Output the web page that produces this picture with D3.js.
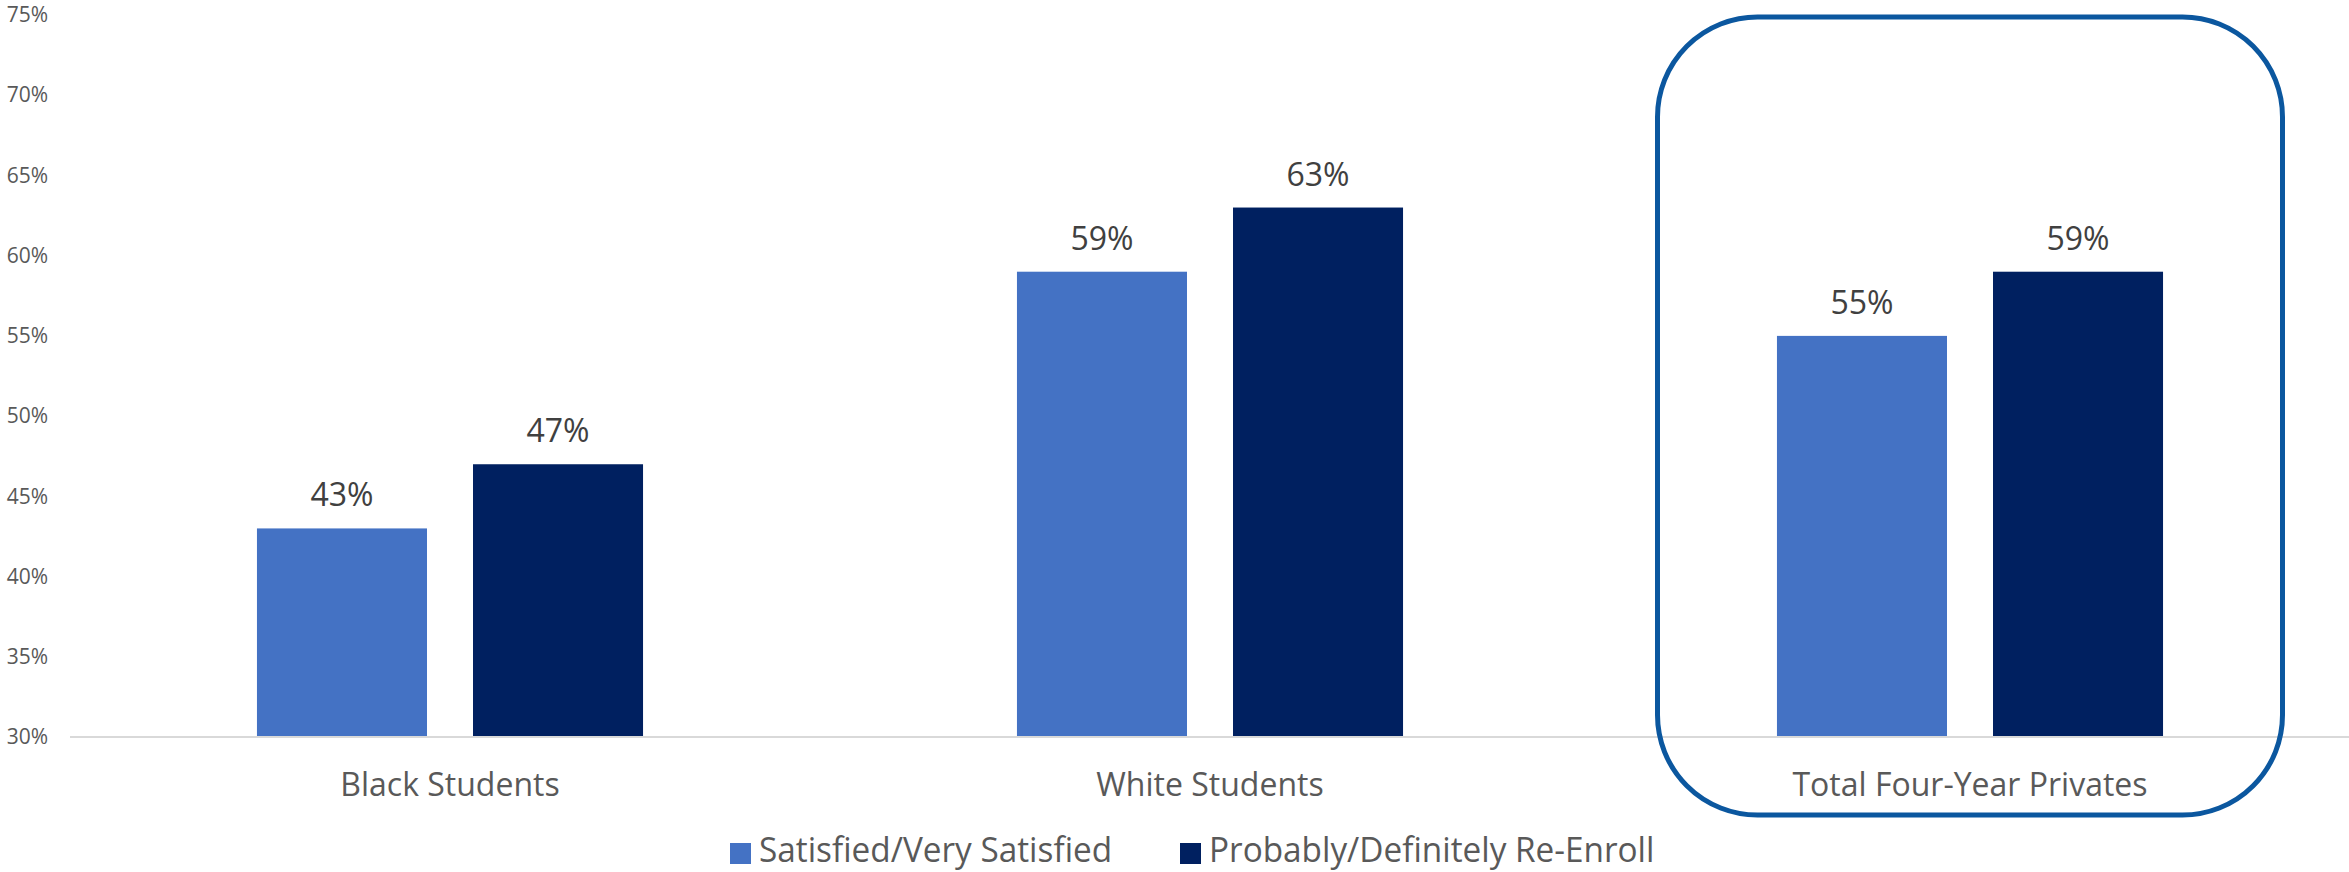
<!DOCTYPE html>
<html>
<head>
<meta charset="utf-8">
<script src="https://cdn.jsdelivr.net/npm/d3@7"></script>
<style>
  html, body { margin: 0; padding: 0; background: #ffffff; }
  svg { display: block; font-family: "Open Sans", "Noto Sans", sans-serif; }
</style>
</head>
<body>
<svg id="chart" width="2349" height="872"></svg>
<script>
// Survey groups and the two measures shown for each
const categories = ["Black Students", "White Students", "Total Four-Year Privates"];
const seriesNames = ["Satisfied/Very Satisfied", "Probably/Definitely Re-Enroll"];
const satisfied = [43, 59, 55];
const reenroll = [47, 63, 59];
const yTicks = [30, 35, 40, 45, 50, 55, 60, 65, 70, 75];
const highlighted = "Total Four-Year Privates";

const colors = { "Satisfied/Very Satisfied": "#4472C4", "Probably/Definitely Re-Enroll": "#002060" };

const W = 2349, H = 872;
const plot = { left: 70, right: 2350, top: 15, bottom: 737 };

const svg = d3.select("#chart");

const y = d3.scaleLinear().domain([30, 75]).range([plot.bottom, plot.top]);

const x0 = d3.scaleBand()
  .domain(categories)
  .range([plot.left, plot.right])
  .paddingInner(0.492)
  .paddingOuter(0.246);

const x1 = d3.scaleBand()
  .domain(seriesNames)
  .range([0, x0.bandwidth()])
  .paddingInner(0.213);

const rows = categories.map((c, i) => ({
  category: c,
  values: [
    { series: seriesNames[0], value: satisfied[i] },
    { series: seriesNames[1], value: reenroll[i] }
  ]
}));

// Y axis tick labels (no gridlines)
const yAxis = d3.axisLeft(y).tickValues(yTicks).tickFormat(d => d + "%").tickSize(0).tickPadding(0);
const yg = svg.append("g").attr("transform", "translate(48,0)").call(yAxis);
yg.select(".domain").remove();
yg.selectAll("text")
  .attr("fill", "#595959")
  .style("font-size", "21px")
  .style("font-family", "'Open Sans', sans-serif");

// Bars
const groups = svg.append("g").selectAll("g")
  .data(rows).join("g")
  .attr("transform", d => `translate(${x0(d.category)},0)`);

groups.selectAll("rect")
  .data(d => d.values).join("rect")
  .attr("x", d => x1(d.series))
  .attr("y", d => y(d.value))
  .attr("width", x1.bandwidth())
  .attr("height", d => y(30) - y(d.value))
  .attr("fill", d => colors[d.series]);

// Value labels
groups.selectAll("text.val")
  .data(d => d.values).join("text")
  .attr("class", "val")
  .attr("x", d => x1(d.series) + x1.bandwidth() / 2)
  .attr("y", d => y(d.value) - 22)
  .attr("text-anchor", "middle")
  .attr("fill", "#404040")
  .style("font-size", "32px")
  .text(d => d.value + "%");

// Baseline axis
svg.append("line")
  .attr("x1", plot.left).attr("x2", W)
  .attr("y1", y(30)).attr("y2", y(30))
  .attr("stroke", "#d9d9d9").attr("stroke-width", 2);

// Slightly condensed text
const condense = (sel, ratio) => sel.each(function () {
  const w = this.getComputedTextLength();
  d3.select(this).attr("textLength", w * ratio).attr("lengthAdjust", "spacingAndGlyphs");
});

// Category labels
svg.append("g").selectAll("text")
  .data(categories).join("text")
  .attr("x", d => x0(d) + x0.bandwidth() / 2)
  .attr("y", 796)
  .attr("text-anchor", "middle")
  .attr("fill", "#595959")
  .style("font-size", "33px")
  .text(d => d)
  .call(condense, 0.97);

// Highlight frame around one category group
const hx = x0(highlighted) + x0.bandwidth() / 2;
svg.append("rect")
  .attr("x", hx - 312.5)
  .attr("y", 17)
  .attr("width", 625)
  .attr("height", 798)
  .attr("rx", 100).attr("ry", 100)
  .attr("fill", "none")
  .attr("stroke", "#0b579f")
  .attr("stroke-width", 5);

// Legend
const legendX = [730, 1180];
const legend = svg.append("g").selectAll("g")
  .data(seriesNames).join("g")
  .attr("transform", (d, i) => `translate(${legendX[i]},0)`);
legend.append("rect")
  .attr("x", 0).attr("y", 843)
  .attr("width", 21).attr("height", 21)
  .attr("fill", d => colors[d]);
legend.append("text")
  .attr("x", 29).attr("y", 862)
  .attr("fill", "#595959")
  .style("font-size", "34px")
  .text(d => d)
  .call(condense, 0.98);
</script>
</body>
</html>
